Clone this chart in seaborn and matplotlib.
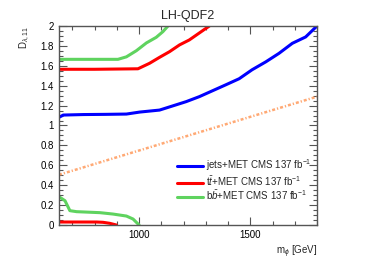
import numpy as np
import pandas as pd
import seaborn as sns
import matplotlib
matplotlib.use("Agg")
import matplotlib.pyplot as plt
from matplotlib.ticker import MultipleLocator, FormatStrFormatter

# limits
jets_m = [640, 659, 750, 850, 943, 1003, 1092, 1150, 1212, 1271, 1301, 1391, 1450, 1508, 1570, 1629, 1689, 1749, 1800]
jets_d = [1.082, 1.105, 1.11, 1.112, 1.115, 1.135, 1.155, 1.196, 1.24, 1.29, 1.32, 1.41, 1.47, 1.56, 1.64, 1.725, 1.826, 1.89, 2.0]

tt_hi_m = [640, 800, 995, 1047, 1092, 1137, 1182, 1226, 1271, 1316]
tt_hi_d = [1.565, 1.565, 1.57, 1.625, 1.685, 1.742, 1.81, 1.86, 1.93, 2.0]
tt_lo_m = [640, 700, 809, 838, 868, 898]
tt_lo_d = [0.03, 0.03, 0.03, 0.027, 0.017, 0.0]

bb_hi_m = [640, 800, 905, 943, 988, 1033, 1077, 1107, 1130]
bb_hi_d = [1.665, 1.665, 1.665, 1.69, 1.752, 1.83, 1.886, 1.943, 2.0]
bb_lo_m = [640, 667, 689, 719, 824, 883, 943, 973, 1000]
bb_lo_d = [0.284, 0.244, 0.144, 0.134, 0.124, 0.11, 0.09, 0.06, 0.0]

ref_m = [640, 1800]
ref_d = [0.505, 1.29]

labels = ["jets+MET CMS 137 fb$^{-1}$",
          "t$\\bar{t}$+MET CMS 137 fb$^{-1}$",
          "b$\\bar{b}$+MET CMS 137 fb$^{-1}$"]

sns.set_style("ticks")
plt.rcParams['font.family'] = ['Liberation Sans', 'DejaVu Sans']
plt.rcParams['mathtext.fontset'] = 'custom'
plt.rcParams['mathtext.rm'] = 'Liberation Sans'
plt.rcParams['mathtext.it'] = 'Liberation Sans:italic'

fig, ax = plt.subplots(figsize=(3.74, 2.68), dpi=100)
fig.subplots_adjust(left=59/374, right=317/374, top=1-26/268, bottom=1-225/268)

lw = 2.2
blue, red, green, orange = "#0000ff", "#ff0000", "#5fd35f", "#ff9a5c"

sns.lineplot(x=ref_m, y=ref_d, color=orange, lw=1.8, alpha=0.85,
             linestyle=(0, (1.2, 0.8, 0.5, 0.8)), ax=ax)
sns.lineplot(x=jets_m, y=jets_d, color=blue, lw=lw, ax=ax, label=labels[0])
sns.lineplot(x=tt_hi_m, y=tt_hi_d, color=red, lw=lw, ax=ax, label=labels[1])
sns.lineplot(x=tt_lo_m, y=tt_lo_d, color=red, lw=lw, ax=ax)
sns.lineplot(x=bb_hi_m, y=bb_hi_d, color=green, lw=lw, ax=ax, label=labels[2])
sns.lineplot(x=bb_lo_m, y=bb_lo_d, color=green, lw=lw, ax=ax)

ax.set_xlim(640, 1800)
ax.set_ylim(0, 2)
ax.xaxis.set_major_locator(MultipleLocator(500))
ax.xaxis.set_minor_locator(MultipleLocator(100))
ax.yaxis.set_major_locator(MultipleLocator(0.2))
ax.yaxis.set_minor_locator(MultipleLocator(0.05))
ax.yaxis.set_major_formatter(FormatStrFormatter('%g'))
ax.tick_params(which='both', direction='in', top=True, right=True, labelsize=7,
               color='#555555', labelcolor='#000000')
ax.tick_params(which='major', length=6, width=0.8)
ax.tick_params(which='minor', length=3, width=0.8)
for s in ax.spines.values():
    s.set_linewidth(1.0)
    s.set_color('#555555')

ax.set_title("LH-QDF2", fontsize=9, pad=5)
ax.set_xlabel("m$_{\\phi}$ [GeV]", fontsize=7, loc='right', labelpad=3)
ax.set_ylabel("D$_{\\lambda,11}$", fontsize=7, loc='top', labelpad=6)

ax.legend(loc='center left', bbox_to_anchor=(0.44, 0.226), frameon=False, fontsize=7,
          handlelength=2.6, handletextpad=0.3, labelspacing=0.05, borderpad=0)

fig.savefig("out.png", dpi=100)
